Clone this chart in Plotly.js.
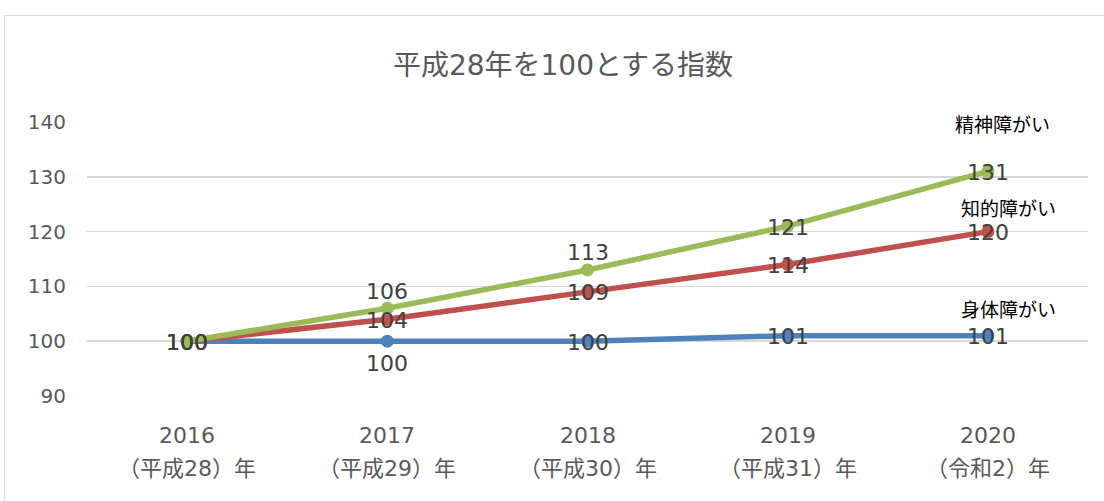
<!DOCTYPE html>
<html><head><meta charset="utf-8">
<script src="https://cdn.plot.ly/plotly-3.0.1.min.js"></script>
<style>
html,body{margin:0;padding:0;background:#fff;overflow:hidden;}
#wrap{position:relative;width:1104px;height:501px;}
#chart{position:absolute;left:0;top:0;width:1104px;height:501px;}
#frame{position:absolute;left:4px;top:15px;width:1120px;height:520px;border:1.5px solid #d9d9d9;pointer-events:none;}
</style></head>
<body><div id="wrap"><div id="chart"></div><div id="frame"></div></div>
<script>
const years = ["2016","2017","2018","2019","2020"];
const eraLabels = ["（平成28）年","（平成29）年","（平成30）年","（平成31）年","（令和2）年"];
const seriesNames = ["身体障がい","知的障がい","精神障がい"];
const physical = [100,100,100,101,101];
const intellectual = [100,104,109,114,120];
const mental = [100,106,113,121,131];
// label placement: 0 = centred on point, 1 = above, -1 = below
const labelPlace = [
  [0,-1,0,0,0],
  [0,0,0,0,0],
  [0,1,1,0,0]
];
const nameLabelX = [4.105,4.105,4.075];
const nameLabelY = [105.7,124.1,139.45];
const colors = ["#4F81BD","#C0504D","#9BBB59"];
const values = [physical,intellectual,mental];
const xs = [0,1,2,3,4];

const font = '"DejaVu Sans", "Noto Sans CJK JP", sans-serif';
const traces = [];
values.forEach((v,i)=>{
  traces.push({type:'scatter',mode:'lines+markers',x:xs,y:v,name:seriesNames[i],
    line:{color:colors[i],width:5.5},marker:{color:colors[i],size:13},hoverinfo:'skip'});
});

const annotations = [];
const shiftFor = {0:-1, 1:17, '-1':-22};
values.forEach((v,i)=>{
  v.forEach((val,j)=>{
    annotations.push({x:xs[j],y:val,xref:'x',yref:'y',text:String(val),showarrow:false,
      yshift:shiftFor[labelPlace[i][j]],xanchor:'center',yanchor:'middle',
      font:{family:font,size:22,color:'#404040'}});
  });
});
seriesNames.forEach((n,i)=>{
  annotations.push({x:nameLabelX[i],y:nameLabelY[i],xref:'x',yref:'y',text:n,showarrow:false,
    font:{family:font,size:19,color:'#000'},xanchor:'center',yanchor:'middle'});
});
years.forEach((yv,i)=>{
  annotations.push({x:i,y:0,xref:'x',yref:'paper',yshift:-39,text:yv,showarrow:false,
    font:{family:font,size:22,color:'#595959'},xanchor:'center',yanchor:'middle'});
  annotations.push({x:i,y:0,xref:'x',yref:'paper',yshift:-72,text:eraLabels[i],showarrow:false,
    font:{family:font,size:22,color:'#595959'},xanchor:'center',yanchor:'middle'});
});

const layout = {
  width:1104,height:501,
  margin:{l:87,r:16,t:122,b:105},
  paper_bgcolor:'#fff',plot_bgcolor:'#fff',
  showlegend:false,
  title:{text:'平成28年を100とする指数',font:{family:font,size:28,color:'#595959'},
    x:563/1104,xanchor:'center',y:1-65/501,yanchor:'middle',yref:'container'},
  xaxis:{range:[-0.5,4.5],showgrid:false,zeroline:false,showline:false,showticklabels:false,fixedrange:true},
  yaxis:{range:[90,140],tickvals:[90,100,110,120,130,140],showgrid:true,gridcolor:'#d9d9d9',gridwidth:1.5,
    zeroline:false,showline:false,ticks:'',ticklabelstandoff:20,
    tickfont:{family:font,size:20,color:'#595959'},fixedrange:true},
  annotations:annotations
};
Plotly.newPlot('chart',traces,layout,{displayModeBar:false,staticPlot:true});
</script></body></html>
